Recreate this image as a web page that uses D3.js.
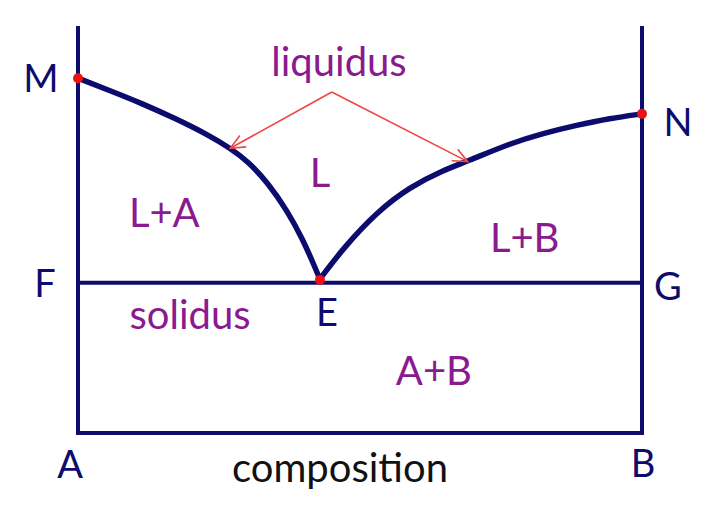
<!DOCTYPE html>
<html>
<head>
<meta charset="utf-8">
<script src="https://cdn.jsdelivr.net/npm/d3@7"></script>
<style>
  html, body { margin: 0; padding: 0; background: #ffffff; }
  svg { display: block; }
  text { font-family: Lato, "Open Sans", sans-serif; }
</style>
</head>
<body>
<svg id="chart" width="707" height="515"></svg>
<script>
// ---- data (composition % B, temperature in arbitrary units) ----
const liquidusLeft = [
  [0, 87.6], [5.37, 84.7], [11.3, 81.4], [17.2, 77.7], [23.1, 73.6],
  [27.0, 70.3], [30.2, 67.0], [33.7, 61.7], [37.0, 55.1], [39.9, 47.7],
  [41.7, 41.9], [42.9, 38.0]
];
const liquidusRight = [
  [42.9, 38.0], [47.0, 45.6], [53.0, 54.6], [58.9, 60.8], [64.8, 64.9],
  [68.9, 67.0], [76.6, 71.5], [82.5, 74.0], [88.4, 76.0], [94.3, 77.7],
  [100, 78.8]
];
const solidusT = 37.1;
const keyPoints = [
  { name: "M", c: 0, t: 87.6 },
  { name: "E", c: 42.9, t: 37.8 },
  { name: "N", c: 100, t: 78.8 }
];
const arrowApex = [45.0, 84.2];
const arrowTips = [[27.0, 70.3], [69.1, 67.0]];
const regionLabels = ["L", "L+A", "L+B", "A+B"];
const regionPos = [[42.9, 64.5], [15.3, 54.6], [79.2, 48.4], [63.1, 15.5]];
const cornerLabels = ["M", "N", "F", "G", "E", "A", "B"];

// ---- scales ----
const x = d3.scaleLinear().domain([0, 100]).range([78, 642]);
const y = d3.scaleLinear().domain([0, 100]).range([433, 28]);

const svg = d3.select("#chart");
const navy = "#0c0c6e";
const purple = "#8a1a8e";

// frame: verticals + bottom + solidus
const frame = [
  [[0, 100], [0, 0]],
  [[100, 100], [100, 0]],
  [[0, 0], [100, 0]],
  [[0, solidusT], [100, solidusT]]
];
const segLine = d3.line().x(d => x(d[0])).y(d => y(d[1]));
svg.selectAll("path.frame").data(frame).join("path")
  .attr("class", "frame")
  .attr("d", segLine)
  .attr("fill", "none")
  .attr("stroke", navy)
  .attr("stroke-width", 4)
  .attr("stroke-linecap", "square");

// liquidus curves
const curve = d3.line().x(d => x(d[0])).y(d => y(d[1])).curve(d3.curveBasis);
svg.selectAll("path.liq").data([liquidusLeft, liquidusRight]).join("path")
  .attr("class", "liq")
  .attr("d", curve)
  .attr("fill", "none")
  .attr("stroke", navy)
  .attr("stroke-width", 5.5)
  .attr("stroke-linecap", "round");

// key points
svg.selectAll("circle.kp").data(keyPoints).join("circle")
  .attr("class", "kp")
  .attr("cx", d => x(d.c))
  .attr("cy", d => y(d.t))
  .attr("r", 5)
  .attr("fill", "#ee1111");

// arrows
const arrowColor = "#f04545";
arrowTips.forEach(tip => {
  const ax = x(arrowApex[0]), ay = y(arrowApex[1]);
  const tx = x(tip[0]), ty = y(tip[1]);
  svg.append("line")
    .attr("x1", ax).attr("y1", ay).attr("x2", tx).attr("y2", ty)
    .attr("stroke", arrowColor).attr("stroke-width", 1.6);
  const ang = Math.atan2(ty - ay, tx - ax);
  const len = 16, spread = 0.42;
  const p1 = [tx - len * Math.cos(ang - spread), ty - len * Math.sin(ang - spread)];
  const p2 = [tx - len * Math.cos(ang + spread), ty - len * Math.sin(ang + spread)];
  svg.append("path")
    .attr("d", `M${p1[0]},${p1[1]}L${tx},${ty}L${p2[0]},${p2[1]}`)
    .attr("fill", "none").attr("stroke", arrowColor).attr("stroke-width", 1.6);
});

// labels
function label(txt, px, py, color, size) {
  svg.append("text")
    .attr("x", px).attr("y", py)
    .attr("text-anchor", "middle")
    .attr("dominant-baseline", "central")
    .attr("fill", color)
    .attr("font-size", size)
    .text(txt);
}
// corner letters (navy)
const cornerPos = [[41, 77], [678, 121], [45, 282], [668, 285], [327, 311], [70, 463], [643, 462]];
cornerLabels.forEach((t, i) => label(t, cornerPos[i][0], cornerPos[i][1], navy, 38));

// region labels (purple)
regionLabels.forEach((t, i) => label(t, x(regionPos[i][0]), y(regionPos[i][1]), purple, 40));

label("liquidus", 339, 61, purple, 40);
label("solidus", 190, 314, purple, 40);
label("composition", 340, 467, "#111111", 40);
</script>
</body>
</html>
